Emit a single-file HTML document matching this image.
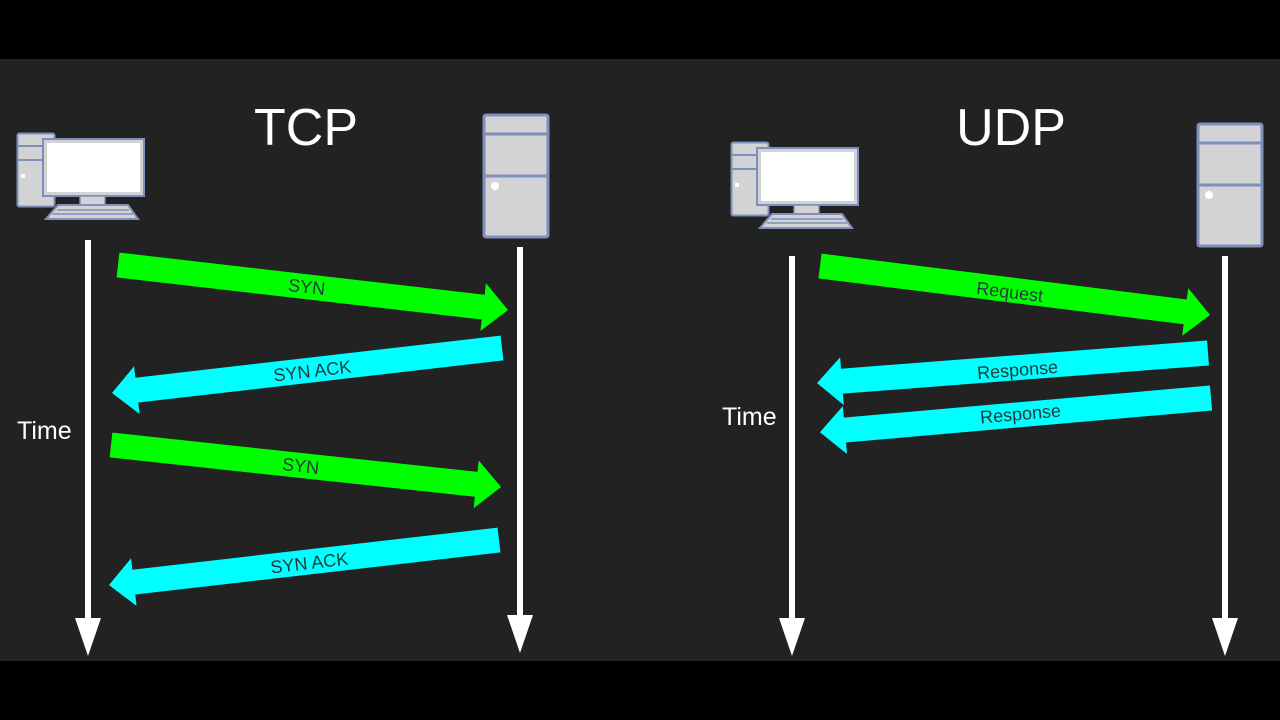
<!DOCTYPE html>
<html><head><meta charset="utf-8"><style>
html,body{margin:0;padding:0;background:#000;}
svg{display:block;}
</style></head><body>
<svg width="1280" height="720" viewBox="0 0 1280 720" xmlns="http://www.w3.org/2000/svg" font-family="Liberation Sans, Arial, sans-serif">
<defs>
  <g id="pc">
    <rect x="0.5" y="0.5" width="37" height="73" rx="2" fill="#d3d3d6" stroke="#7f8fbb" stroke-width="2"/>
    <line x1="1" y1="13" x2="37" y2="13" stroke="#7f8fbb" stroke-width="2"/>
    <line x1="1" y1="27" x2="37" y2="27" stroke="#7f8fbb" stroke-width="2"/>
    <rect x="4" y="41" width="4" height="4" fill="#fff"/>
    <rect x="26" y="6" width="101" height="57" fill="#d3d3d6" stroke="#7f8fbb" stroke-width="2"/>
    <rect x="30" y="10" width="93" height="49" fill="#fff"/>
    <rect x="63" y="63" width="25" height="9" fill="#d3d3d6" stroke="#7f8fbb" stroke-width="1.5"/>
    <polygon points="41,72 111,72 121,86 29,86" fill="#d3d3d6" stroke="#7f8fbb" stroke-width="2"/>
    <line x1="40" y1="77" x2="112" y2="77" stroke="#7f8fbb" stroke-width="1.5"/>
    <line x1="36" y1="81" x2="116" y2="81" stroke="#7f8fbb" stroke-width="1.5"/>
  </g>
  <g id="srv">
    <rect x="1" y="1" width="64" height="122" rx="2" fill="#d3d3d6" stroke="#7f8fbb" stroke-width="3"/>
    <line x1="1" y1="20" x2="65" y2="20" stroke="#7f8fbb" stroke-width="3"/>
    <line x1="1" y1="62" x2="65" y2="62" stroke="#7f8fbb" stroke-width="3"/>
    <circle cx="12" cy="72" r="4" fill="#fff"/>
  </g>
</defs>
<rect x="0" y="59" width="1280" height="602" fill="#222222"/>

<!-- titles -->
<text x="306" y="145" font-size="52" fill="#fff" text-anchor="middle">TCP</text>
<text x="1011" y="145" font-size="52" fill="#fff" text-anchor="middle">UDP</text>
<text x="17" y="439" font-size="25" fill="#fff">Time</text>
<text x="722" y="425" font-size="25" fill="#fff">Time</text>

<!-- icons -->
<use href="#pc" x="17" y="133"/>
<use href="#pc" x="731" y="142"/>
<use href="#srv" x="483" y="114"/>
<use href="#srv" x="1197" y="123"/>

<!-- lifelines -->
<g fill="#fff" stroke="none">
  <rect x="85" y="240" width="6" height="385"/>
  <polygon points="75,618 101,618 88,656"/>
  <rect x="517" y="247" width="6" height="375"/>
  <polygon points="507,615 533,615 520,653"/>
  <rect x="789" y="256" width="6" height="368"/>
  <polygon points="779,618 805,618 792,656"/>
  <rect x="1222" y="256" width="6" height="368"/>
  <polygon points="1212,618 1238,618 1225,656"/>
</g>

<!-- arrows -->
<g>
  <polygon transform="translate(118,265) rotate(6.58)" points="0,-12.5 367.6,-12.5 367.6,-24 392.6,0 367.6,24 367.6,12.5 0,12.5" fill="#00ff00"/>
  <polygon transform="translate(502,348) rotate(173.42)" points="0,-12.5 367.6,-12.5 367.6,-24 392.6,0 367.6,24 367.6,12.5 0,12.5" fill="#00ffff"/>
  <polygon transform="translate(111,445) rotate(6.15)" points="0,-12.5 367.3,-12.5 367.3,-24 392.3,0 367.3,24 367.3,12.5 0,12.5" fill="#00ff00"/>
  <polygon transform="translate(499,540) rotate(173.42)" points="0,-12.5 367.6,-12.5 367.6,-24 392.6,0 367.6,24 367.6,12.5 0,12.5" fill="#00ffff"/>
  <polygon transform="translate(820,266) rotate(7.16)" points="0,-12.5 368.1,-12.5 368.1,-24 393.1,0 368.1,24 368.1,12.5 0,12.5" fill="#00ff00"/>
  <polygon transform="translate(1208,353) rotate(175.6)" points="0,-12.5 367.1,-12.5 367.1,-24 392.1,0 367.1,24 367.1,12.5 0,12.5" fill="#00ffff"/>
  <polygon transform="translate(1211,398) rotate(175.0)" points="0,-12.5 367.5,-12.5 367.5,-24 392.5,0 367.5,24 367.5,12.5 0,12.5" fill="#00ffff"/>
</g>

<g font-size="18" fill="#1f3a3a" text-anchor="middle">
  <text transform="translate(306,293) rotate(6.58)">SYN</text>
  <text transform="translate(313,377) rotate(-6.58)">SYN ACK</text>
  <text transform="translate(300,472) rotate(6.15)">SYN</text>
  <text transform="translate(310,569) rotate(-6.58)">SYN ACK</text>
  <text transform="translate(1009,298) rotate(7.16)">Request</text>
  <text transform="translate(1018,376) rotate(-4.4)">Response</text>
  <text transform="translate(1021,420) rotate(-5)">Response</text>
</g>
</svg>
</body></html>
